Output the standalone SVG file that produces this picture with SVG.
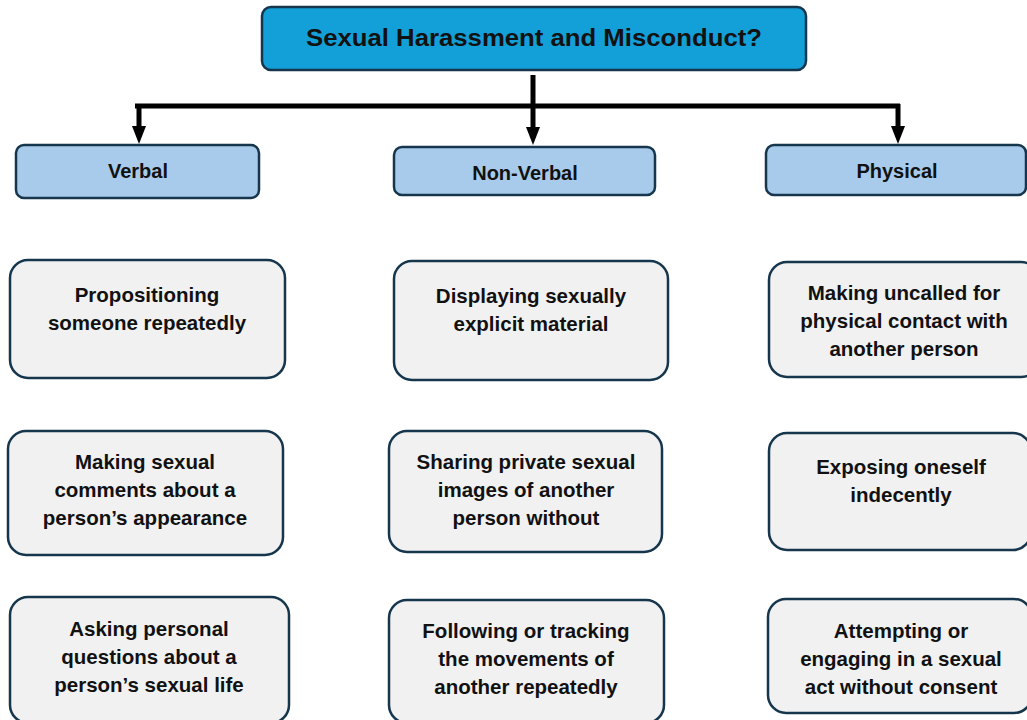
<svg xmlns="http://www.w3.org/2000/svg" width="1027" height="720" viewBox="0 0 1027 720">
<defs>
<style>
.title{fill:#139fd7;stroke:#16364d;stroke-width:2.5}
.cat{fill:#a8cbeb;stroke:#16364d;stroke-width:2.5}
.item{fill:#f1f1f1;stroke:#16364d;stroke-width:2.5}
.t{font-family:"Liberation Sans",Arial,sans-serif;font-weight:bold;fill:#111;text-anchor:middle}
.tt{font-size:23px}
.ct{font-size:20px}
.it{font-size:20.5px}
.conn{stroke:#000;stroke-width:5;fill:none}
</style>
</defs>
<rect width="1027" height="720" fill="#fff"/>

<g id="connectors">
<path class="conn" d="M533,75 V128"/>
<path class="conn" d="M135,106 H900"/>
<path class="conn" d="M139,104 V127"/>
<path class="conn" d="M898,104 V127"/>
<path d="M526,127 L540,127 L533,145 Z" fill="#000"/>
<path d="M132,126 L146,126 L139,144 Z" fill="#000"/>
<path d="M891,126 L905,126 L898,144 Z" fill="#000"/>
</g>

<g id="title">
<rect class="title" x="262" y="7" width="544" height="63" rx="9"/>
<text class="t tt" x="534" y="46" textLength="456" lengthAdjust="spacingAndGlyphs">Sexual  Harassment and Misconduct?</text>
</g>

<g id="verbal">
<rect class="cat" x="16" y="145" width="243" height="53" rx="8"/>
<text class="t ct" x="138" y="178">Verbal</text>
</g>
<g id="nonverbal">
<rect class="cat" x="394" y="147" width="261" height="48" rx="8"/>
<text class="t ct" x="525" y="180">Non-Verbal</text>
</g>
<g id="physical">
<rect class="cat" x="766" y="145" width="260" height="50" rx="8"/>
<text class="t ct" x="897" y="178">Physical</text>
</g>

<g id="v1">
<rect class="item" x="10" y="260" width="275" height="118" rx="18"/>
<text class="t it" x="147" y="302">Propositioning</text>
<text class="t it" x="147" y="330">someone repeatedly</text>
</g>
<g id="v2">
<rect class="item" x="8" y="431" width="275" height="124" rx="18"/>
<text class="t it" x="145" y="469">Making sexual</text>
<text class="t it" x="145" y="497">comments about a</text>
<text class="t it" x="145" y="525">person’s appearance</text>
</g>
<g id="v3">
<rect class="item" x="10" y="597" width="279" height="126" rx="18"/>
<text class="t it" x="149" y="636">Asking personal</text>
<text class="t it" x="149" y="664">questions about a</text>
<text class="t it" x="149" y="692">person’s sexual life</text>
</g>

<g id="n1">
<rect class="item" x="394" y="261" width="274" height="119" rx="18"/>
<text class="t it" x="531" y="303">Displaying sexually</text>
<text class="t it" x="531" y="331">explicit material</text>
</g>
<g id="n2">
<rect class="item" x="389" y="431" width="273" height="121" rx="18"/>
<text class="t it" x="526" y="469">Sharing private sexual</text>
<text class="t it" x="526" y="497">images of another</text>
<text class="t it" x="526" y="525">person without</text>
</g>
<g id="n3">
<rect class="item" x="389" y="600" width="275" height="123" rx="18"/>
<text class="t it" x="526" y="638">Following or tracking</text>
<text class="t it" x="526" y="666">the movements of</text>
<text class="t it" x="526" y="694">another repeatedly</text>
</g>

<g id="p1">
<rect class="item" x="769" y="262" width="270" height="115" rx="18"/>
<text class="t it" x="904" y="300">Making uncalled for</text>
<text class="t it" x="904" y="328">physical contact with</text>
<text class="t it" x="904" y="356">another person</text>
</g>
<g id="p2">
<rect class="item" x="769" y="433" width="262" height="117" rx="18"/>
<text class="t it" x="901" y="474">Exposing oneself</text>
<text class="t it" x="901" y="502">indecently</text>
</g>
<g id="p3">
<rect class="item" x="768" y="599" width="264" height="114" rx="18"/>
<text class="t it" x="901" y="638">Attempting or</text>
<text class="t it" x="901" y="666">engaging in a sexual</text>
<text class="t it" x="901" y="694">act without consent</text>
</g>
</svg>
